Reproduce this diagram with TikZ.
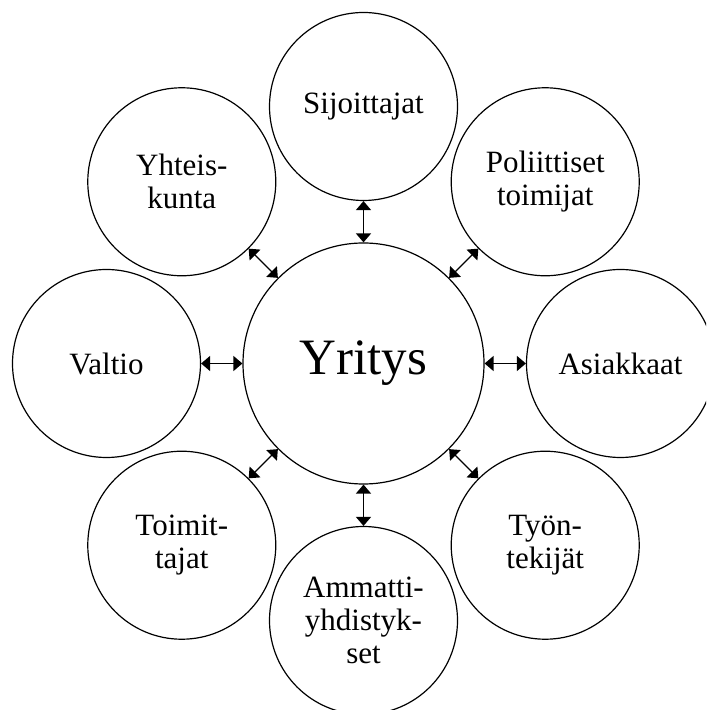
\documentclass[tikz,border=0pt]{standalone}
\usepackage{fontspec}
\setmainfont{Liberation Serif}
\usetikzlibrary{arrows.meta}

\tikzset{
  party/.style={draw, circle, line width=0.6pt, minimum size=94pt, inner sep=0pt,
    align=center, font=\fontsize{15.5}{16.5}\selectfont},
  firm/.style={draw, circle, line width=0.6pt, minimum size=120.5pt, inner sep=0pt,
    font=\fontsize{25.5}{30}\selectfont},
  link/.style={{Triangle[width=7.5pt,length=4.5pt]}-{Triangle[width=7.5pt,length=4.5pt]}, line width=0.7pt}
}

\begin{document}
\begin{tikzpicture}
  % Picture frame (outer circles are cut at right and bottom)
  \clip (-181.75pt,-173.25pt) rectangle (171.25pt,181.75pt);

  % Company in the middle
  \node[firm] (yritys) at (0,0) {Yritys};

  % Stakeholders around it
  \node[party] (sijoittajat) at (90:128.5pt) {Sijoittajat};
  \node[party] (poliittiset) at (45:128.5pt) {Poliittiset\\toimijat};
  \node[party] (asiakkaat) at (0:128.5pt) {Asiakkaat};
  \node[party] (tyontekijat) at (-45:128.5pt) {Työn-\\tekijät};
  \node[party] (ammatti) at (-90:128.5pt) {Ammatti-\\yhdistyk-\\set};
  \node[party] (toimittajat) at (-135:128.5pt) {Toimit-\\tajat};
  \node[party] (valtio) at (180:128.5pt) {Valtio};
  \node[party] (yhteiskunta) at (135:128.5pt) {Yhteis-\\kunta};

  % Two-way links
  \draw[link] (yritys) -- (sijoittajat);
  \draw[link] (yritys) -- (poliittiset);
  \draw[link] (yritys) -- (asiakkaat);
  \draw[link] (yritys) -- (tyontekijat);
  \draw[link] (yritys) -- (ammatti);
  \draw[link] (yritys) -- (toimittajat);
  \draw[link] (yritys) -- (valtio);
  \draw[link] (yritys) -- (yhteiskunta);

\end{tikzpicture}
\end{document}
